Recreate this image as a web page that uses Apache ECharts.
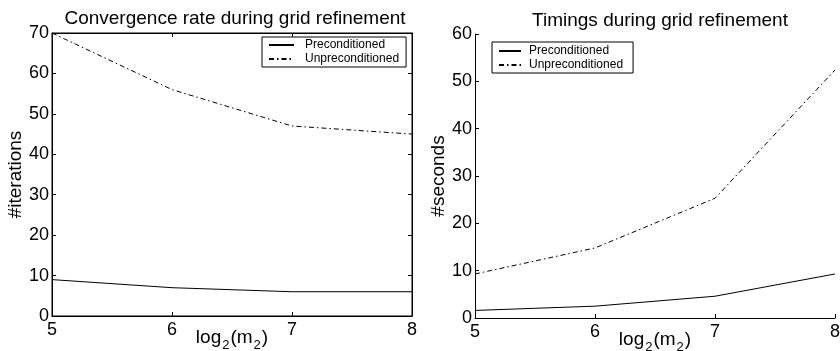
<!DOCTYPE html>
<html><head><meta charset="utf-8">
<script src="https://cdn.jsdelivr.net/npm/echarts@6/dist/echarts.min.js"></script>
<style>html,body{margin:0;padding:0;background:#fff}#c{width:840px;height:351px}</style>
</head><body><div id="c"></div>
<script>
var xValues = [5, 6, 7, 8];
var iterPre = [9, 7, 6, 6];
var iterUnpre = [70, 56, 47, 45];
var timePre = [1.6, 2.5, 4.6, 9.3];
var timeUnpre = [9.3, 14.8, 25.3, 52.4];
var titles = ['Convergence rate during grid refinement', 'Timings during grid refinement'];
var yNames = ['#iterations', '#seconds'];
var seriesNames = ['Preconditioned', 'Unpreconditioned'];

var FF = "'Liberation Sans', Arial, sans-serif";
function pairs(xs, ys){ return xs.map(function(x,i){ return [x, ys[i]]; }); }
var dashDot = [5, 3, 1.5, 3];
var xName = '{a|log}{s|2}{a|(m}{s|2}{a|)}';
var xNameStyle = { rich: { a: {fontSize: 19, fontFamily: FF, color: '#000'}, s: {fontSize: 13, fontFamily: FF, color: '#000', padding: [16,1,0,1]} } };
function xAx(grid, pos, labels, extra){
  var o = { type: 'value', gridIndex: grid, position: pos, min: 5, max: 8, interval: 1,
    axisLine: {show: true, onZero: false, lineStyle: {color: '#000', width: 1}},
    axisTick: {show: true, inside: true, length: 4, lineStyle: {color: '#000'}},
    axisLabel: {show: labels, color: '#000', fontSize: 18, fontFamily: FF, margin: 5},
    splitLine: {show: false} };
  return Object.assign(o, extra || {});
}
function yAx(grid, pos, labels, max, extra){
  var o = { type: 'value', gridIndex: grid, position: pos, min: 0, max: max, interval: 10,
    axisLine: {show: true, onZero: false, lineStyle: {color: '#000', width: 1}},
    axisTick: {show: true, inside: true, length: 4, lineStyle: {color: '#000'}},
    axisLabel: {show: labels, color: '#000', fontSize: 18, fontFamily: FF, margin: 3},
    splitLine: {show: false} };
  return Object.assign(o, extra || {});
}
function ser(name, xi, yi, data, dash){
  return { name: name, type: 'line', xAxisIndex: xi, yAxisIndex: yi, data: data,
    symbol: 'none', animation: false,
    lineStyle: {color: '#000', width: 1, type: dash ? dashDot : 'solid'},
    itemStyle: {color: '#000'} };
}
var legendBase = {data: seriesNames, orient: 'vertical', itemHeight: 12, itemGap: 2,
  backgroundColor: '#fff', borderColor: '#000', borderWidth: 1, borderRadius: 0,
  itemStyle: {opacity: 0}, selectedMode: false};
var chart = echarts.init(document.getElementById('c'));
chart.setOption({
  animation: false,
  textStyle: {fontFamily: FF},
  title: [
    {text: titles[0], left: 230, top: 4, textAlign: 'center', textStyle: {fontSize: 19, fontWeight: 'normal', color: '#000', fontFamily: FF}},
    {text: titles[1], left: 655, top: 6, textAlign: 'center', textStyle: {fontSize: 19, fontWeight: 'normal', color: '#000', fontFamily: FF}}
  ],
  legend: [
    Object.assign({}, legendBase, {left: 262, top: 37, itemWidth: 25, padding: [2, 7, 2, 6],
     textStyle: {fontSize: 12, color: '#000', fontFamily: FF, padding: [0, 0, 0, 6]}}),
    Object.assign({}, legendBase, {left: 492, top: 42, itemWidth: 22, padding: [3, 10, 2, 6],
     textStyle: {fontSize: 12, color: '#000', fontFamily: FF, padding: [0, 0, 0, 3]}})
  ],
  grid: [
    {left: 52, right: 428, top: 33, bottom: 35, outerBoundsMode: 'none', containLabel: false, show: true, borderColor: '#000', borderWidth: 1, backgroundColor: 'transparent'},
    {left: 475, right: 5, top: 34, bottom: 33, outerBoundsMode: 'none', containLabel: false}
  ],
  xAxis: [
    xAx(0, 'bottom', true, {name: xName, nameLocation: 'middle', nameGap: 7, nameMoveOverlap: false, nameTextStyle: xNameStyle}),
    xAx(0, 'top', false),
    xAx(1, 'bottom', true, {name: xName, nameLocation: 'middle', nameGap: 7, nameMoveOverlap: false, nameTextStyle: xNameStyle})
  ],
  yAxis: [
    yAx(0, 'left', true, 70, {name: yNames[0], nameLocation: 'middle', nameGap: 27, nameMoveOverlap: false, nameTextStyle: {fontSize: 19, color: '#000', fontFamily: FF}}),
    yAx(0, 'right', false, 70),
    yAx(1, 'left', true, 60, {name: yNames[1], nameLocation: 'middle', nameGap: 27, nameMoveOverlap: false, nameTextStyle: {fontSize: 19, color: '#000', fontFamily: FF}})
  ],
  series: [
    ser(seriesNames[0], 0, 0, pairs(xValues, iterPre), false),
    ser(seriesNames[1], 0, 0, pairs(xValues, iterUnpre), true),
    ser(seriesNames[0], 2, 2, pairs(xValues, timePre), false),
    ser(seriesNames[1], 2, 2, pairs(xValues, timeUnpre), true)
  ]
});
</script></body></html>
